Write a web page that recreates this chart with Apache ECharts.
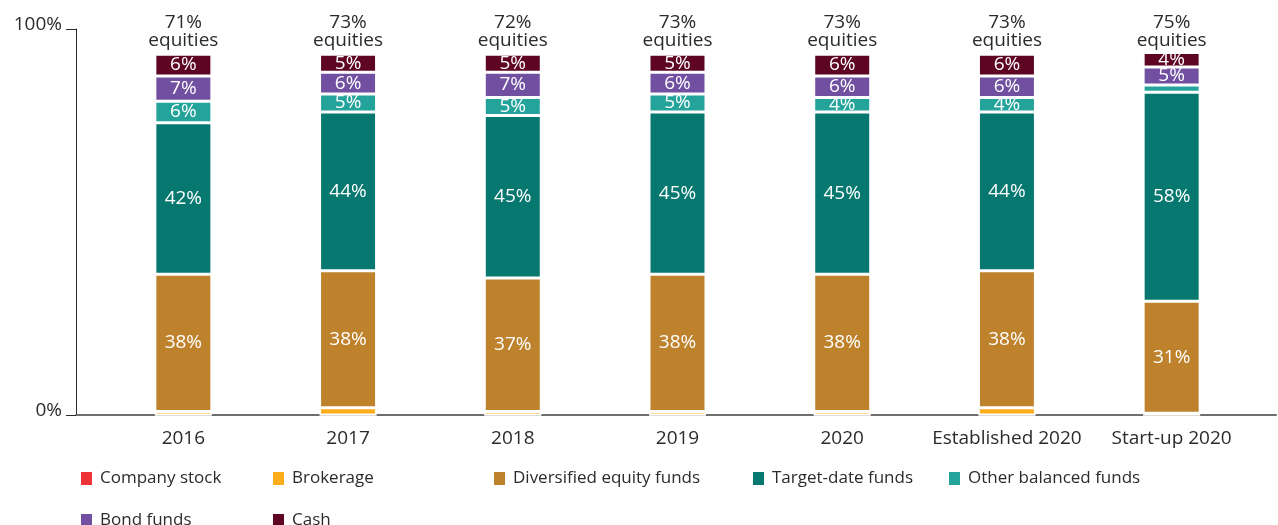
<!DOCTYPE html>
<html>
<head>
<meta charset="utf-8">
<script src="https://cdn.jsdelivr.net/npm/echarts@6/dist/echarts.min.js"></script>
<style>
  html, body { margin: 0; padding: 0; background: #fff; }
  #chart { width: 1278px; height: 525px; }
</style>
</head>
<body>
<div id="chart"></div>
<script>
// categories and values
var categories = ['2016', '2017', '2018', '2019', '2020', 'Established 2020', 'Start-up 2020'];
var equityShare = [71, 73, 72, 73, 73, 73, 75];
var companyStock = [0, 0, 0, 0, 0, 0, 0];
var brokerage = [1, 2, 1, 1, 1, 2, 0.5];
var diversifiedEquity = [38, 38, 37, 38, 38, 38, 31];
var targetDate = [42, 44, 45, 45, 45, 44, 58];
var otherBalanced = [6, 5, 5, 5, 4, 4, 2];
var bondFunds = [7, 6, 7, 6, 6, 6, 5];
var cash = [6, 5, 5, 5, 6, 6, 4];

var seriesNames = ['Company stock', 'Brokerage', 'Diversified equity funds', 'Target-date funds',
    'Other balanced funds', 'Bond funds', 'Cash'];
var seriesValues = [companyStock, brokerage, diversifiedEquity, targetDate, otherBalanced, bondFunds, cash];
var colors = ['#ee3338', '#fdad1c', '#bf822c', '#077870', '#24a39b', '#7150a1', '#5f0524'];

// legend item spots (left, top)
var legendSpots = [[76, 465], [268, 465], [489, 465], [748, 465], [944, 465], [76, 507], [268, 507]];

var FONT = '"Open Sans", sans-serif';
var TEXT = '#2b2b2b';
var SIZE = 19;
var AXIS_MAX = 107;

function buildSeries() {
    return seriesNames.map(function(name, i) {
        return {
            name: name,
            type: 'bar',
            stack: 'total',
            xAxisIndex: 0,
            yAxisIndex: 0,
            barWidth: 57,
            data: seriesValues[i],
            itemStyle: { color: colors[i], borderColor: '#fff', borderWidth: 1.5 },
            label: {
                show: true,
                position: 'inside',
                color: '#fff',
                fontFamily: FONT,
                fontSize: SIZE,
                formatter: function(p) {
                    return p.value >= 3 ? p.value + '%' : '';
                }
            },
            emphasis: { disabled: true }
        };
    });
}

function buildLegends() {
    return seriesNames.map(function(name, i) {
        return {
            data: [name],
            left: legendSpots[i][0],
            top: legendSpots[i][1],
            icon: 'rect',
            itemWidth: 11,
            itemHeight: 13,
            itemStyle: { borderWidth: 0 },
            selectedMode: false,
            textStyle: { color: TEXT, fontFamily: FONT, fontSize: 17, padding: [0, 0, 0, 3] }
        };
    });
}

function initChart() {
    var chart = echarts.init(document.getElementById('chart'));

    var option = {
        animation: false,
        legend: buildLegends(),
        grid: [
            // bars
            { left: 101, right: 24, top: 29, bottom: 110 },
            // full-width frame for the axis lines
            { left: 76, right: 2, top: 29, bottom: 110 }
        ],
        xAxis: [
            {
                type: 'category',
                gridIndex: 0,
                data: categories,
                axisLine: { show: false },
                axisTick: { show: false },
                axisLabel: { color: TEXT, fontFamily: FONT, fontSize: SIZE, margin: 14, interval: 0 }
            },
            {
                type: 'category',
                gridIndex: 0,
                position: 'top',
                data: categories,
                axisLine: { show: false },
                axisTick: { show: false },
                axisLabel: {
                    color: TEXT,
                    fontFamily: FONT,
                    fontSize: SIZE,
                    lineHeight: 18,
                    margin: -21,
                    interval: 0,
                    formatter: function(v, idx) {
                        return equityShare[idx] + '%\nequities';
                    }
                }
            },
            {
                type: 'value',
                gridIndex: 1,
                min: 0,
                max: 1,
                axisLine: { show: true, lineStyle: { color: '#6e6e6e', width: 2 } },
                axisTick: { show: false },
                axisLabel: { show: false },
                splitLine: { show: false }
            }
        ],
        yAxis: [
            {
                type: 'value',
                gridIndex: 0,
                min: 0,
                max: AXIS_MAX,
                show: false
            },
            {
                type: 'value',
                gridIndex: 1,
                min: 0,
                max: AXIS_MAX,
                interval: AXIS_MAX,
                axisLine: { show: true, lineStyle: { color: '#2b2b2b', width: 1 } },
                axisTick: { show: true, length: 10, lineStyle: { color: '#2b2b2b' } },
                splitLine: { show: false },
                axisLabel: {
                    color: TEXT,
                    fontFamily: FONT,
                    fontSize: SIZE,
                    margin: 14,
                    verticalAlign: 'bottom',
                    lineHeight: 9,
                    formatter: function(v) {
                        return v === 0 ? '0%' : '100%';
                    }
                }
            }
        ],
        series: buildSeries()
    };

    chart.setOption(option);
}

document.addEventListener('DOMContentLoaded', initChart);
</script>
</body>
</html>
